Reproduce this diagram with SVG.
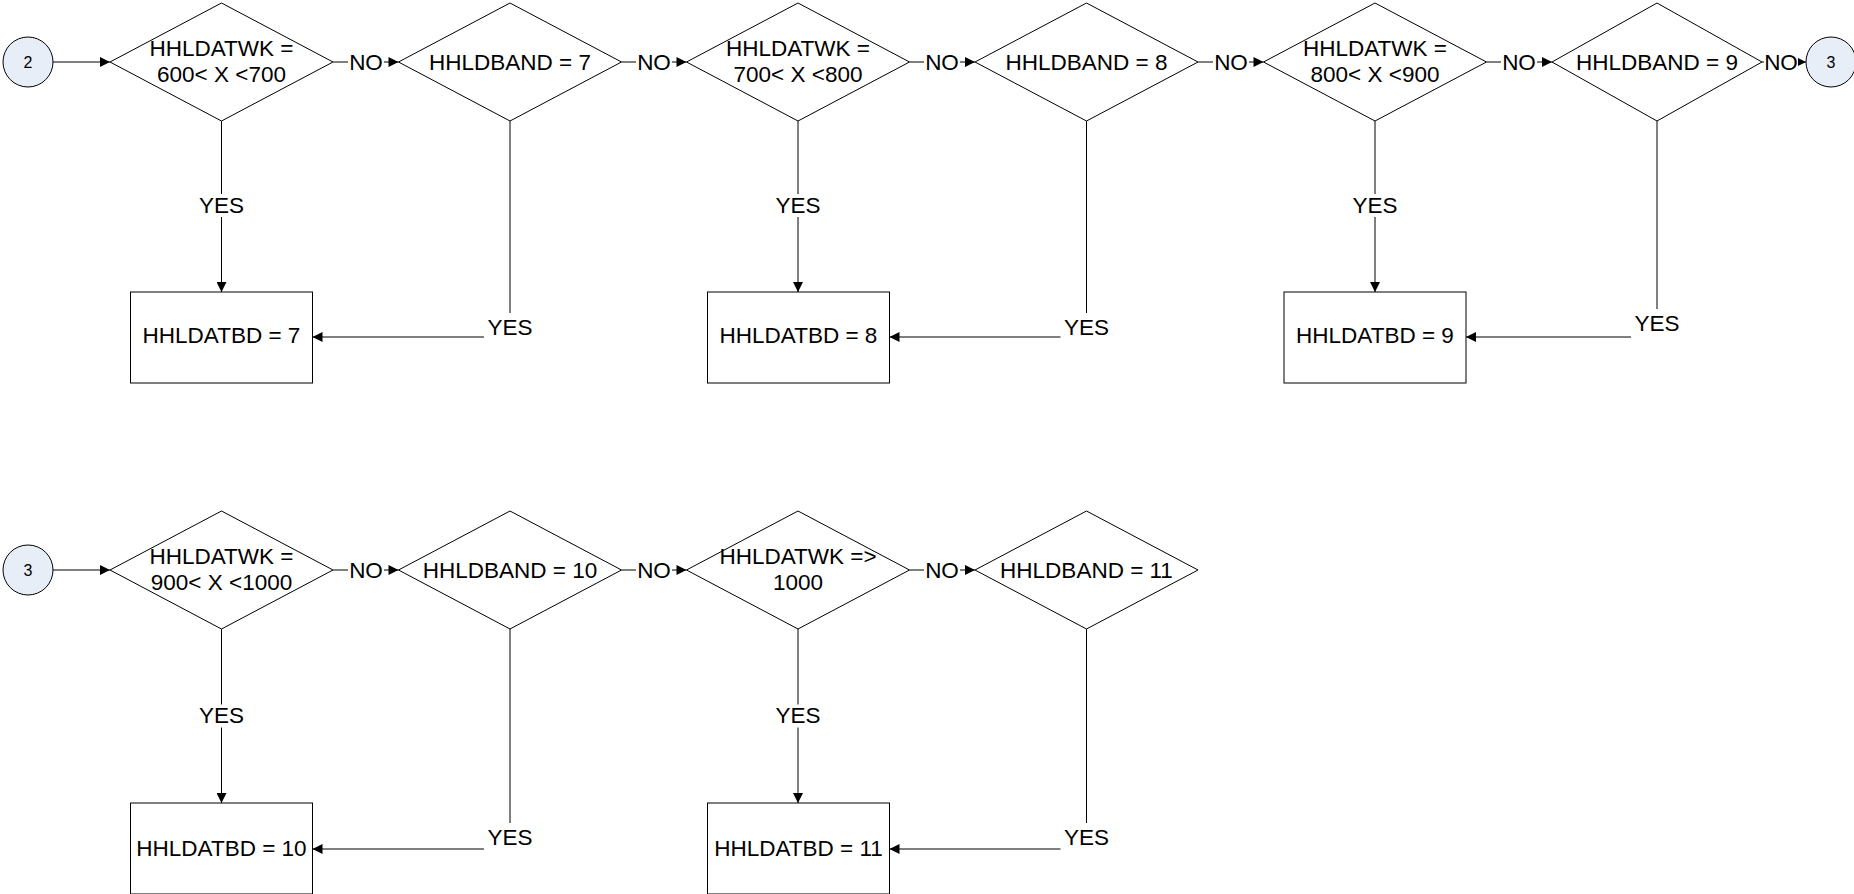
<svg xmlns="http://www.w3.org/2000/svg" width="1854" height="894" viewBox="0 0 1854 894">
<style>
text{font-family:"Liberation Sans",Arial,sans-serif;font-size:22.5px;fill:#000;text-anchor:middle}
.sh{fill:#fff;stroke:#000;stroke-width:1}
.ci{fill:#E8EEF8;stroke:#000;stroke-width:1}
.ct{font-size:16px}
.cn{fill:none;stroke:#000;stroke-width:1}
.bg{fill:#fff;stroke:none}
</style>
<defs>
<marker id="arr" viewBox="0 0 10 10" refX="10" refY="5" markerWidth="12" markerHeight="10" markerUnits="userSpaceOnUse" orient="auto"><path d="M0,0 L10,5 L0,10 z" fill="#000"/></marker>
</defs>
<rect width="1854" height="894" fill="#fff"/>

<g id="connectors">
<!-- row 1 -->
<path class="cn" d="M53,62 H110" marker-end="url(#arr)"/>
<path class="cn" d="M333,62 H398.5" marker-end="url(#arr)"/>
<path class="cn" d="M621.5,62 H686.5" marker-end="url(#arr)"/>
<path class="cn" d="M909.5,62 H975" marker-end="url(#arr)"/>
<path class="cn" d="M1198,62 H1263.5" marker-end="url(#arr)"/>
<path class="cn" d="M1486.5,62 H1552" marker-end="url(#arr)"/>
<path class="cn" d="M1762,62 H1806" marker-end="url(#arr)"/>
<path class="cn" d="M221.5,121 V292" marker-end="url(#arr)"/>
<path class="cn" d="M798,121 V292" marker-end="url(#arr)"/>
<path class="cn" d="M1375,121 V292" marker-end="url(#arr)"/>
<path class="cn" d="M510,121 V337 H312.5" marker-end="url(#arr)"/>
<path class="cn" d="M1086.5,121 V337 H889.5" marker-end="url(#arr)"/>
<path class="cn" d="M1657,121 V337 H1466" marker-end="url(#arr)"/>
<!-- row 2 -->
<path class="cn" d="M53,570 H110" marker-end="url(#arr)"/>
<path class="cn" d="M333,570 H398.5" marker-end="url(#arr)"/>
<path class="cn" d="M621.5,570 H686.5" marker-end="url(#arr)"/>
<path class="cn" d="M909.5,570 H975" marker-end="url(#arr)"/>
<path class="cn" d="M221.5,629 V803" marker-end="url(#arr)"/>
<path class="cn" d="M798,629 V803" marker-end="url(#arr)"/>
<path class="cn" d="M510,629 V849 H312.5" marker-end="url(#arr)"/>
<path class="cn" d="M1086.5,629 V849 H889.5" marker-end="url(#arr)"/>

<!-- labels -->
<g id="labels">
<rect class="bg" x="348" y="52" width="36" height="20"/><text x="366" y="70">NO</text>
<rect class="bg" x="636" y="52" width="36" height="20"/><text x="654" y="70">NO</text>
<rect class="bg" x="924" y="52" width="36" height="20"/><text x="942" y="70">NO</text>
<rect class="bg" x="1213" y="52" width="36" height="20"/><text x="1231" y="70">NO</text>
<rect class="bg" x="1501" y="52" width="36" height="20"/><text x="1519" y="70">NO</text>
<rect class="bg" x="1764" y="52" width="34" height="20"/><text x="1781" y="70">NO</text>
<rect class="bg" x="196" y="194" width="51" height="23"/><text x="221.5" y="212.5">YES</text>
<rect class="bg" x="772.5" y="194" width="51" height="23"/><text x="798" y="212.5">YES</text>
<rect class="bg" x="1349.5" y="194" width="51" height="23"/><text x="1375" y="212.5">YES</text>
<rect class="bg" x="484" y="313" width="52" height="28"/><text x="510" y="335">YES</text>
<rect class="bg" x="1060.5" y="313" width="52" height="28"/><text x="1086.5" y="335">YES</text>
<rect class="bg" x="1631" y="309" width="52" height="32"/><text x="1657" y="331">YES</text>

<rect class="bg" x="348" y="560" width="36" height="20"/><text x="366" y="578">NO</text>
<rect class="bg" x="636" y="560" width="36" height="20"/><text x="654" y="578">NO</text>
<rect class="bg" x="924" y="560" width="36" height="20"/><text x="942" y="578">NO</text>
<rect class="bg" x="196" y="704.5" width="51" height="23"/><text x="221.5" y="723">YES</text>
<rect class="bg" x="772.5" y="704.5" width="51" height="23"/><text x="798" y="723">YES</text>
<rect class="bg" x="484" y="823" width="52" height="30"/><text x="510" y="845">YES</text>
<rect class="bg" x="1060.5" y="823" width="52" height="30"/><text x="1086.5" y="845">YES</text>
</g>
</g>

<!-- row 1 nodes -->
<g id="c2"><circle class="ci" cx="28" cy="62" r="25"/><text class="ct" x="28" y="67.5">2</text></g>
<g id="d1"><polygon class="sh" points="110,62 221.5,3 333,62 221.5,121"/><text x="221.5" y="56">HHLDATWK =</text><text x="221.5" y="82">600&lt; X &lt;700</text></g>
<g id="d2"><polygon class="sh" points="398.5,62 510,3 621.5,62 510,121"/><text x="510" y="70">HHLDBAND = 7</text></g>
<g id="d3"><polygon class="sh" points="686.5,62 798,3 909.5,62 798,121"/><text x="798" y="56">HHLDATWK =</text><text x="798" y="82">700&lt; X &lt;800</text></g>
<g id="d4"><polygon class="sh" points="975,62 1086.5,3 1198,62 1086.5,121"/><text x="1086.5" y="70">HHLDBAND = 8</text></g>
<g id="d5"><polygon class="sh" points="1263.5,62 1375,3 1486.5,62 1375,121"/><text x="1375" y="56">HHLDATWK =</text><text x="1375" y="82">800&lt; X &lt;900</text></g>
<g id="d6"><polygon class="sh" points="1552,62 1657,3 1762,62 1657,121"/><text x="1657" y="70">HHLDBAND = 9</text></g>
<g id="c3a"><circle class="ci" cx="1831" cy="62" r="25"/><text class="ct" x="1831" y="67.5">3</text></g>
<g id="r1"><rect class="sh" x="130.5" y="292" width="182" height="91"/><text x="221.5" y="343">HHLDATBD = 7</text></g>
<g id="r2"><rect class="sh" x="707.5" y="292" width="182" height="91"/><text x="798.5" y="343">HHLDATBD = 8</text></g>
<g id="r3"><rect class="sh" x="1284" y="292" width="182" height="91"/><text x="1375" y="343">HHLDATBD = 9</text></g>

<!-- row 2 nodes -->
<g id="c3b"><circle class="ci" cx="28" cy="570" r="25"/><text class="ct" x="28" y="575.5">3</text></g>
<g id="d7"><polygon class="sh" points="110,570 221.5,511 333,570 221.5,629"/><text x="221.5" y="564">HHLDATWK =</text><text x="221.5" y="590">900&lt; X &lt;1000</text></g>
<g id="d8"><polygon class="sh" points="398.5,570 510,511 621.5,570 510,629"/><text x="510" y="578">HHLDBAND = 10</text></g>
<g id="d9"><polygon class="sh" points="686.5,570 798,511 909.5,570 798,629"/><text x="798" y="564">HHLDATWK =&gt;</text><text x="798" y="590">1000</text></g>
<g id="d10"><polygon class="sh" points="975,570 1086.5,511 1198,570 1086.5,629"/><text x="1086.5" y="578">HHLDBAND = 11</text></g>
<g id="r4"><rect class="sh" x="130.5" y="803" width="182" height="91"/><text x="221.5" y="856">HHLDATBD = 10</text></g>
<g id="r5"><rect class="sh" x="707.5" y="803" width="182" height="91"/><text x="798.5" y="856">HHLDATBD = 11</text></g>
</svg>
